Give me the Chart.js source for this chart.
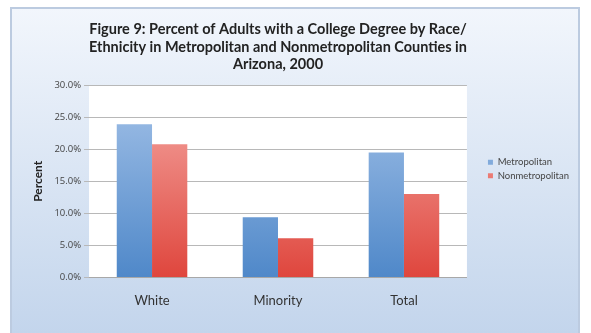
<!DOCTYPE html>
<html>
<head>
<meta charset="utf-8">
<script src="https://cdn.jsdelivr.net/npm/chart.js@4/dist/chart.umd.min.js"></script>
<style>
	html, body { margin: 0; padding: 0; background: #fff; }
	#wrap { width: 591px; height: 333px; }
</style>
</head>
<body>
<div id="wrap"><canvas id="chart"></canvas></div>
<script>
"use strict"

const categories = ['White', 'Minority', 'Total'];
const metropolitan = [23.9, 9.4, 19.5];
const nonmetropolitan = [20.8, 6.1, 13.0];
const yTicks = [0, 5, 10, 15, 20, 25, 30];

// вертикальный градиент для столбцов
function barGradient(ctx, top, bottom) {
	const chart = ctx.chart;
	const area = chart.chartArea;
	if (!area) return bottom;
	const g = chart.ctx.createLinearGradient(0, area.top, 0, area.bottom);
	g.addColorStop(0, top);
	g.addColorStop(1, bottom);
	return g;
}

// фон: рамка с градиентом и белая область графика
const backdrop = {
	id: 'backdrop',
	afterLayout(chart) {
		// отодвигаем легенду от области графика
		const lg = chart.legend;
		if (lg) { lg.left += 17; lg.right += 17; }
	},
	beforeDraw(chart) {
		const c = chart.ctx;
		const w = chart.width, h = chart.height;
		c.save();
		c.fillStyle = '#ffffff';
		c.fillRect(0, 0, w, h);
		const g = c.createLinearGradient(0, 8, 0, h);
		g.addColorStop(0, '#f2f6fc');
		g.addColorStop(1, '#c3d5ec');
		c.fillStyle = g;
		c.fillRect(11, 8, 568, h);
		c.strokeStyle = '#bccbe0';
		c.lineWidth = 2;
		c.strokeRect(11, 8, 568, h + 4);
		const a = chart.chartArea;
		c.fillStyle = '#ffffff';
		c.fillRect(a.left, a.top, a.right - a.left, a.bottom - a.top);
		c.restore();
	}
};

new Chart(document.getElementById('chart'), {
	type: 'bar',
	data: {
		labels: categories,
		datasets: [
			{
				label: 'Metropolitan',
				data: metropolitan,
				backgroundColor: ctx => barGradient(ctx, '#a4c2e8', '#4f88c9'),
				borderWidth: 0
			},
			{
				label: 'Nonmetropolitan',
				data: nonmetropolitan,
				backgroundColor: ctx => barGradient(ctx, '#f5aaa5', '#df463d'),
				borderWidth: 0
			}
		]
	},
	options: {
		responsive: true,
		maintainAspectRatio: false,
		animation: false,
		datasets: { bar: { barPercentage: 1, categoryPercentage: 0.56 } },
		layout: { padding: { left: 25, right: 29, top: 21, bottom: 16 } },
		plugins: {
			title: {
				display: true,
				fullSize: false,
				text: [
					'Figure 9: Percent of Adults with a College Degree by Race/',
					'Ethnicity in Metropolitan and Nonmetropolitan Counties in',
					'Arizona, 2000'
				],
				color: '#222',
				font: { family: 'Lato', size: 14.5, weight: 'bold', lineHeight: 1.2 },
				padding: { top: 0, bottom: 12 }
			},
			legend: {
				position: 'right',
				align: 'center',
				labels: {
					color: '#444',
					font: { family: 'Lato', size: 9.5 },
					boxWidth: 5,
					boxHeight: 5,
					padding: 4
				}
			},
			tooltip: { enabled: false }
		},
		scales: {
			x: {
				grid: { display: false },
				border: { display: true, color: '#a8a8a8' },
				ticks: { color: '#333', font: { family: 'Lato', size: 13 }, padding: 8 }
			},
			y: {
				min: 0,
				max: 30,
				afterBuildTicks: axis => { axis.ticks = yTicks.map(v => ({ value: v })); },
				grid: { color: '#b8b8b8', tickLength: 5 },
				border: { display: false },
				ticks: {
					color: '#444',
					font: { family: 'Open Sans', size: 9.5 },
					padding: 3,
					callback: v => v.toFixed(1) + '%'
				},
				title: {
					display: true,
					text: 'Percent',
					color: '#222',
					font: { family: 'Lato', size: 12, weight: 'bold' },
					padding: 6
				}
			}
		}
	},
	plugins: [backdrop]
});
</script>
</body>
</html>
